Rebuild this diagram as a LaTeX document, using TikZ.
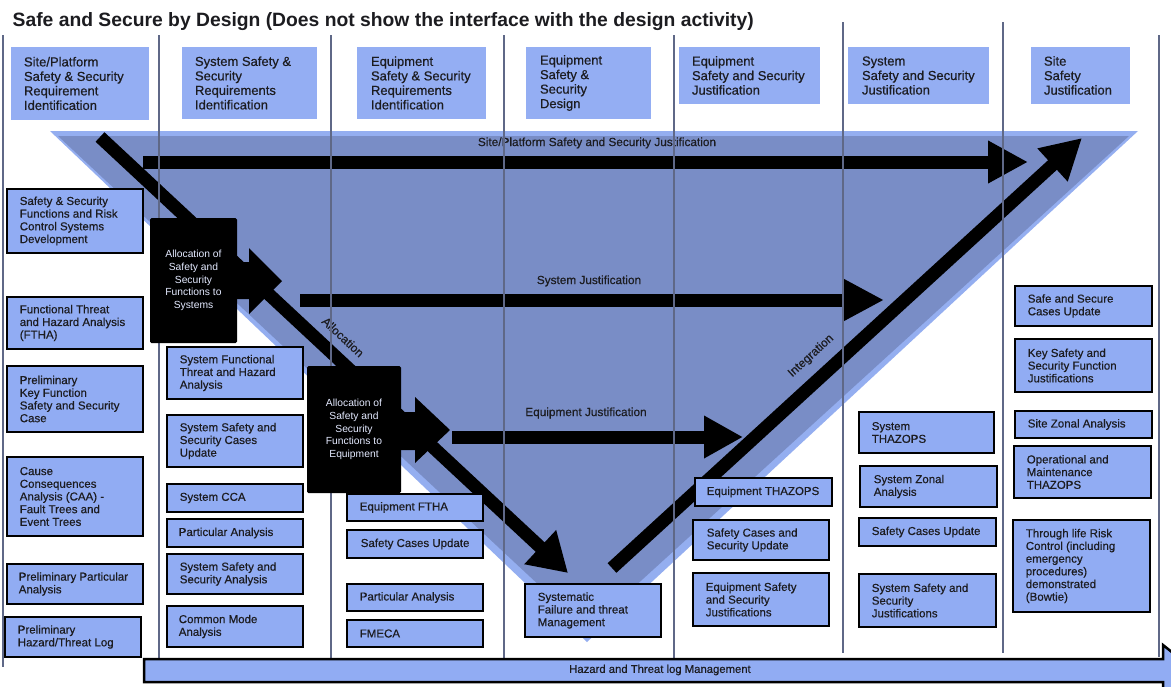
\documentclass[tikz,border=0pt]{standalone}
\usepackage{fontspec}
\setmainfont{Liberation Sans}
\newfontfamily\medfont{Liberation Sans}[FakeBold=0.5]
\usetikzlibrary{arrows.meta}
\definecolor{boxblue}{RGB}{145,172,243}
\definecolor{hdrblue}{RGB}{148,174,243}
\definecolor{tridark}{RGB}{121,141,198}
\definecolor{trilight}{RGB}{148,174,240}
\definecolor{vline}{RGB}{95,104,135}
\definecolor{ink}{RGB}{28,28,32}
\definecolor{blktext}{RGB}{228,234,255}
% #1 style, #2 name, #3 x1, #4 y1, #5 x2, #6 y2, #7 inset, #8 text
\newcommand\bx[8]{%
  \node[#1, minimum width={(#5-#3)*1pt}, minimum height={(#6-#4)*1pt}] (#2) at ({(#3+#5)/2},{(#4+#6)/2}) {};
  \node[#1txt, anchor=west] (#2t) at ([xshift=#7pt]#2.west) {#8};}
\begin{document}
\begin{tikzpicture}[x=1pt,y=-1pt,
  box/.style={draw=black,line width=2.8pt,fill=boxblue,inner sep=0pt},
  boxtxt/.style={inner sep=0pt,align=left,text=ink,font=\medfont\fontsize{11.5}{12.7}\selectfont},
  hdr/.style={fill=hdrblue,inner sep=0pt},
  hdrtxt/.style={inner sep=0pt,align=left,text=ink,font=\medfont\fontsize{13}{14.5}\selectfont},
  blk/.style={fill=black,inner sep=0pt,rounded corners=1.5pt,align=center,text=blktext,font=\fontsize{10.3}{12.6}\selectfont},
  lbl/.style={inner sep=0pt,text=ink,font=\medfont\fontsize{11.8}{14}\selectfont},
  shaft/.style={line width=13pt,draw=black},
  vl/.style={draw=vline,line width=1.4pt},
]
\useasboundingbox (0,0) rectangle (1171,686);
\fill[white] (0,0) rectangle (1171,686);

% V-shaped triangle
\fill[trilight] (50,131) -- (1138,131) -- (587,642) -- cycle;
\fill[tridark] (58,136) -- (1129,136) -- (587,630) -- cycle;

% named arrow end points
\coordinate (dstart) at (100,137);
\coordinate (dend) at (568,573);
\coordinate (istart) at (612,568);
\coordinate (iend) at (1082,138);
\coordinate (sitea) at (143,162);
\coordinate (siteb) at (1028,162);
\coordinate (sysa) at (300,300);
\coordinate (sysb) at (884,300);
\coordinate (eqa) at (452,437);
\coordinate (eqb) at (743,437);

% thick arrows
\draw[shaft,-{Triangle[length=38pt,width=44pt]}] (dstart) -- (dend);
\draw[shaft,-{Triangle[length=40pt,width=42pt]}] (istart) -- (iend);
\draw[shaft,-{Triangle[length=40pt,width=40pt]}] (sitea) -- (siteb);
\draw[shaft,-{Triangle[length=41pt,width=40pt]}] (sysa) -- (sysb);
\draw[shaft,-{Triangle[length=39pt,width=40pt]}] (eqa) -- (eqb);

% labels on the triangle
\node[lbl] (lsite) at (597,143) {Site/Platform Safety and Security Justification};
\node[lbl] (lsys) at (589,281) {System Justification};
\node[lbl] (leq) at (586,413) {Equipment Justification};
\node[lbl,rotate=-43,font=\medfont\fontsize{12}{14}\selectfont] (lalloc) at (343,337) {Allocation};
\node[lbl,rotate=42.5,font=\medfont\fontsize{12}{14}\selectfont] (linteg) at (811,356) {Integration};

% column separators
\foreach \x/\ya/\yb in {3/35/667, 159/35/658, 331/35/658, 504/35/658, 674/35/658, 843/22/653, 1003/22/653, 1159/35/657}
  \draw[vl] (\x,\ya) -- (\x,\yb);

% black allocation boxes with block arrows
\node[blk, minimum width=87pt, minimum height=125pt] (allocA) at (193.5,280.5) {Allocation of\\Safety and\\Security\\Functions to\\Systems};
\fill (236,262) -- (249,262) -- (249,248) -- (282,281) -- (249,314) -- (249,299) -- (236,299) -- cycle;
\node[blk, minimum width=94pt, minimum height=127pt] (allocB) at (354,429.5) {Allocation of\\Safety and\\Security\\Functions to\\Equipment};
\fill (400,412) -- (415,412) -- (415,397) -- (450,430) -- (415,463) -- (415,450) -- (400,450) -- cycle;

% headers
\bx{hdr}{h1}{11}{47}{149}{120}{13}{Site/Platform\\Safety \& Security\\Requirement\\Identification}
\bx{hdr}{h2}{182}{47}{317}{119}{13}{System Safety \&\\Security\\Requirements\\Identification}
\bx{hdr}{h3}{357}{47}{486}{119}{14}{Equipment\\Safety \& Security\\Requirements\\Identification}
\bx{hdr}{h4}{526}{47}{651}{119}{14}{Equipment\\Safety \&\\Security\\Design}
\bx{hdr}{h5}{679}{47}{820}{104}{13}{Equipment\\Safety and Security\\Justification}
\bx{hdr}{h6}{848}{47}{989}{104}{14}{System\\Safety and Security\\Justification}
\bx{hdr}{h7}{1031}{47}{1130}{104}{13}{Site\\Safety\\Justification}

% column 1
\bx{box}{l1}{7}{189}{143}{253}{14}{Safety \& Security\\Functions and Risk\\Control Systems\\Development}
\bx{box}{l2}{7}{297}{143}{349}{14}{Functional Threat\\and Hazard Analysis\\(FTHA)}
\bx{box}{l3}{7}{366}{143}{432}{14}{Preliminary\\Key Function\\Safety and Security\\Case}
\bx{box}{l4}{7}{457}{143}{536}{14}{Cause\\Consequences\\Analysis (CAA) -\\Fault Trees and\\Event Trees}
\bx{box}{l5}{7}{564}{143}{604}{13}{Preliminary Particular\\Analysis}
\bx{box}{l6}{5}{617}{141}{657}{14}{Preliminary\\Hazard/Threat Log}

% column 2
\bx{box}{c1}{167}{347}{303}{399}{14}{System Functional\\Threat and Hazard\\Analysis}
\bx{box}{c2}{167}{415}{303}{467}{14}{System Safety and\\Security Cases\\Update}
\bx{box}{c3}{167}{484}{303}{512}{14}{System CCA}
\bx{box}{c4}{167}{519}{303}{547}{13}{Particular Analysis}
\bx{box}{c5}{167}{554}{303}{594}{14}{System Safety and\\Security Analysis}
\bx{box}{c6}{167}{606}{303}{647}{13}{Common Mode\\Analysis}

% column 3
\bx{box}{e1}{347}{494}{483}{521}{14}{Equipment FTHA}
\bx{box}{e2}{347}{530}{483}{558}{15}{Safety Cases Update}
\bx{box}{e3}{347}{584}{483}{611}{14}{Particular Analysis}
\bx{box}{e4}{347}{620}{483}{647}{14}{FMECA}

% column 4
\bx{box}{sm}{525}{584}{661}{637}{14}{Systematic\\Failure and threat\\Management}

% column 5
\bx{box}{q1}{695}{478}{832}{506}{13}{Equipment THAZOPS}
\bx{box}{q2}{693}{520}{829}{560}{15}{Safety Cases and\\Security Update}
\bx{box}{q3}{693}{573}{829}{626}{14}{Equipment Safety\\and Security\\Justifications}

% column 6
\bx{box}{s1}{859}{412}{994}{453}{14}{System\\THAZOPS}
\bx{box}{s2}{860}{466}{997}{507}{15}{System Zonal\\Analysis}
\bx{box}{s3}{859}{518}{996}{546}{14}{Safety Cases Update}
\bx{box}{s4}{859}{574}{996}{627}{14}{System Safety and\\Security\\Justifications}

% column 7
\bx{box}{t1}{1015}{286}{1152}{326}{14}{Safe and Secure\\Cases Update}
\bx{box}{t2}{1015}{339}{1152}{392}{14}{Key Safety and\\Security Function\\Justifications}
\bx{box}{t3}{1015}{411}{1152}{438}{14}{Site Zonal Analysis}
\bx{box}{t4}{1014}{446}{1151}{498}{14}{Operational and\\Maintenance\\THAZOPS}
\bx{box}{t5}{1013}{520}{1150}{612}{14}{Through life Risk\\Control (including\\emergency\\procedures)\\demonstrated\\(Bowtie)}

% bottom arrow
\draw[fill=boxblue,line width=2.5pt,line join=miter] (144,659) -- (1163,659) -- (1163,645) -- (1195,670.5) -- (1163,696) -- (1163,682) -- (144,682) -- cycle;
\node[lbl,font=\medfont\fontsize{11.3}{13}\selectfont] (lhaz) at (660,670) {Hazard and Threat log Management};

% title
\node[anchor=base west,inner sep=0pt,text=ink,font=\bfseries\fontsize{19.3}{22}\selectfont] (title) at (12.5,26.7) {Safe and Secure by Design (Does not show the interface with the design activity)};
\end{tikzpicture}
\end{document}
